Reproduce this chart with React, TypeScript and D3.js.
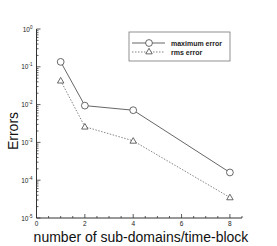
import React, { useEffect, useRef } from 'react';
import * as d3 from 'd3';

const subDomains = [1, 2, 4, 8];
const maxError = [0.135, 0.0094, 0.0071, 0.00016];
const rmsError = [0.043, 0.0026, 0.0011, 0.000035];
const xTicks = [0, 2, 4, 6, 8];
const yExponents = [0, -1, -2, -3, -4, -5];

const width = 277;
const height = 246;

export default function App() {
  const svgRef = useRef<SVGSVGElement>(null);

  useEffect(() => {
    const svg = d3.select(svgRef.current);
    svg.selectAll('*').remove();
    const margin = { top: 29, right: 35, bottom: 28, left: 36.5 };

    const x = d3.scaleLinear().domain([0, 8.5]).range([margin.left, width - margin.right]);
    const y = d3.scaleLog().domain([1e-5, 1]).range([height - margin.bottom, margin.top]);

    const g = svg.append('g').attr('font-family', 'Liberation Sans, Arial, sans-serif');

    // axes lines
    g.append('line')
      .attr('x1', x(0)).attr('x2', x(8.5))
      .attr('y1', y(1e-5)).attr('y2', y(1e-5))
      .attr('stroke', '#333').attr('stroke-width', 1);
    g.append('line')
      .attr('x1', x(0)).attr('x2', x(0))
      .attr('y1', y(1e-5)).attr('y2', y(1))
      .attr('stroke', '#333').attr('stroke-width', 1);

    // x ticks (major every 2, minor every 0.5)
    const xMinor = d3.range(0, 8.51, 0.5);
    g.selectAll('.xminor').data(xMinor).enter().append('line')
      .attr('x1', d => x(d)).attr('x2', d => x(d))
      .attr('y1', y(1e-5)).attr('y2', d => y(1e-5) - (d % 2 === 0 ? 4 : 2))
      .attr('stroke', '#333').attr('stroke-width', 0.8);
    g.selectAll('.xlab').data(xTicks).enter().append('text')
      .attr('x', d => x(d)).attr('y', y(1e-5) + 8)
      .attr('text-anchor', 'middle').attr('font-size', 6.5).attr('fill', '#222')
      .text(d => d);

    // y ticks, log
    const yMinor: number[] = [];
    yExponents.forEach(e => {
      if (e === 0) return;
      for (let k = 1; k < 10; k++) yMinor.push(k * Math.pow(10, e));
    });
    yMinor.push(1);
    g.selectAll('.yminor').data(yMinor).enter().append('line')
      .attr('x1', x(0)).attr('y1', d => y(d)).attr('y2', d => y(d))
      .attr('x2', d => {
        const m = Math.round(d / Math.pow(10, Math.floor(Math.log10(d) + 1e-9)));
        return x(0) + (m === 1 ? 4 : 2);
      })
      .attr('stroke', '#333').attr('stroke-width', 0.8);

    const ylab = g.selectAll('.ylab').data(yExponents).enter().append('text')
      .attr('x', x(0) - 4).attr('y', d => y(Math.pow(10, d)) + 2.5)
      .attr('text-anchor', 'end').attr('font-size', 6.5).attr('fill', '#222');
    ylab.append('tspan').text('10');
    ylab.append('tspan').attr('dy', -3).attr('font-size', 4.5).text(d => d);

    // lines
    const line = d3.line<number>().x((d, i) => x(subDomains[i])).y(d => y(d));
    g.append('path').datum(maxError).attr('d', line)
      .attr('fill', 'none').attr('stroke', '#555').attr('stroke-width', 0.9);
    g.append('path').datum(rmsError).attr('d', line)
      .attr('fill', 'none').attr('stroke', '#777').attr('stroke-width', 0.9)
      .attr('stroke-dasharray', '1.5,1.5');

    const tri = d3.symbol().type(d3.symbolTriangle).size(18);
    g.selectAll('.circ').data(maxError).enter().append('circle')
      .attr('cx', (d, i) => x(subDomains[i])).attr('cy', d => y(d)).attr('r', 3.4)
      .attr('fill', 'white').attr('stroke', '#444').attr('stroke-width', 0.8);
    g.selectAll('.tri').data(rmsError).enter().append('path')
      .attr('d', tri)
      .attr('transform', (d, i) => `translate(${x(subDomains[i])},${y(d) + 0.5})`)
      .attr('fill', 'white').attr('stroke', '#444').attr('stroke-width', 0.8);

    // legend
    const lg = g.append('g').attr('transform', 'translate(129,32)');
    lg.append('rect').attr('width', 101).attr('height', 29)
      .attr('fill', 'white').attr('stroke', '#777').attr('stroke-width', 0.8);
    lg.append('line').attr('x1', 3).attr('x2', 36).attr('y1', 11).attr('y2', 11)
      .attr('stroke', '#555').attr('stroke-width', 0.9);
    lg.append('circle').attr('cx', 20).attr('cy', 11).attr('r', 3.4)
      .attr('fill', 'white').attr('stroke', '#444').attr('stroke-width', 0.8);
    lg.append('line').attr('x1', 3).attr('x2', 36).attr('y1', 20).attr('y2', 20)
      .attr('stroke', '#777').attr('stroke-width', 0.9).attr('stroke-dasharray', '1.5,1.5');
    lg.append('path').attr('d', tri).attr('transform', 'translate(20,20)')
      .attr('fill', 'white').attr('stroke', '#444').attr('stroke-width', 0.8);
    lg.append('text').attr('x', 42).attr('y', 13.5).attr('font-size', 7)
      .attr('font-weight', 'bold').attr('fill', '#222').text('maximum error');
    lg.append('text').attr('x', 42).attr('y', 22.5).attr('font-size', 7)
      .attr('font-weight', 'bold').attr('fill', '#222').text('rms error');

    // axis titles
    g.append('text')
      .attr('transform', 'translate(18,131) rotate(-90)')
      .attr('text-anchor', 'middle').attr('font-size', 14).attr('fill', '#111')
      .text('Errors');
    g.append('text')
      .attr('x', 141).attr('y', 242)
      .attr('text-anchor', 'middle').attr('font-size', 14).attr('fill', '#111')
      .text('number of sub-domains/time-block');
  }, []);

  return (
    <svg ref={svgRef} width={width} height={height}
      style={{ position: 'absolute', left: 0, top: 0, background: 'white' }} />
  );
}
